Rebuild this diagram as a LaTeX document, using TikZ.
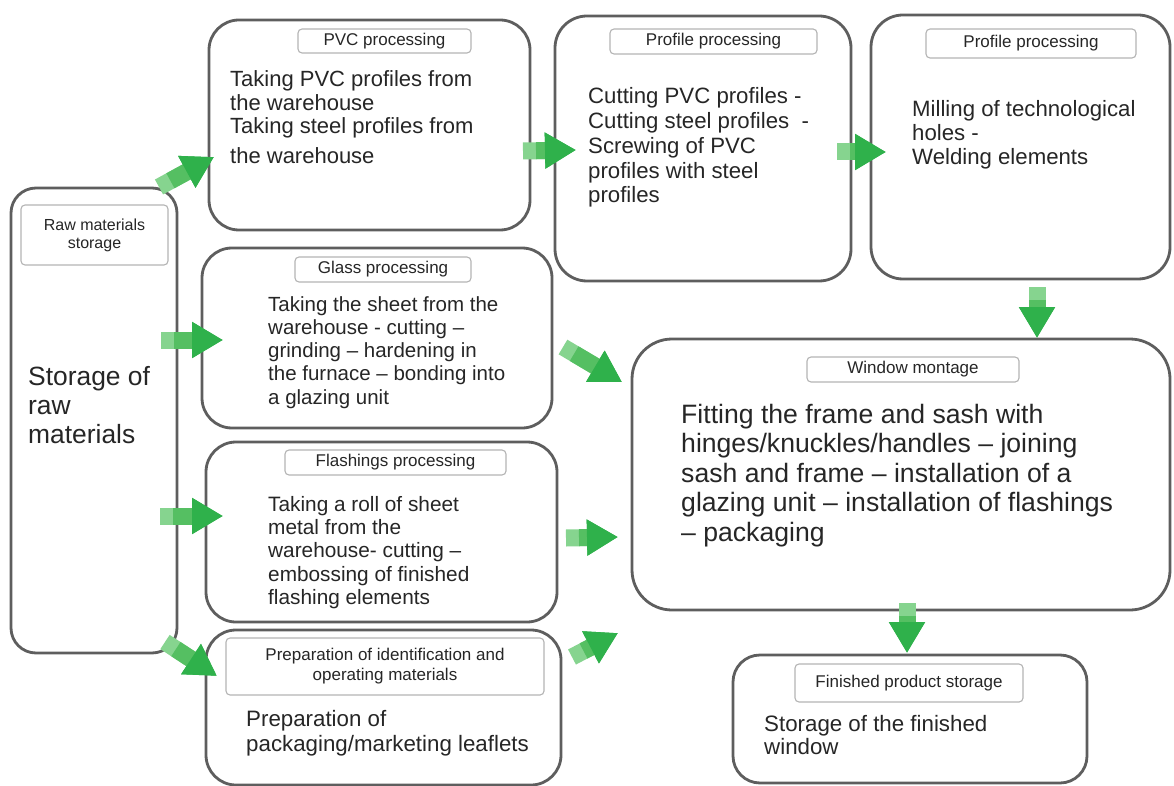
\documentclass[tikz,border=0pt]{standalone}
\usepackage{fontspec}
\setmainfont{Liberation Sans}
\usetikzlibrary{arrows.meta}
\definecolor{boxline}{HTML}{5E5E5E}
\definecolor{tline}{HTML}{B4B4B4}
\definecolor{txt}{HTML}{262626}
\definecolor{glight}{HTML}{86D48F}
\definecolor{gmid}{HTML}{55BF62}
\definecolor{gdark}{HTML}{2FB14B}
\begin{document}
\begin{tikzpicture}[x=1pt,y=-1pt,
  mainbox/.style={draw=boxline, line width=2.8pt, rounded corners=30pt, fill=white, inner sep=0pt},
  titlebox/.style={draw=tline, line width=1.1pt, rounded corners=4pt, fill=white, inner sep=0pt, align=center, text=txt, font=\fontsize{17pt}{19pt}\selectfont},
  bodytext/.style={anchor=north west, inner sep=0pt, align=left, text=txt},
  garrow/.style={line width=17pt, draw=glight, -{Triangle[width=34pt,length=31pt,color=gdark]},
    postaction={draw=gmid, line width=17pt, shorten <=13pt}}]
\useasboundingbox (0,0) rectangle (1174,786);
\fill[white] (0,0) rectangle (1174,786);

% main boxes
\node[mainbox, rounded corners=25pt, minimum width=166pt, minimum height=465pt] (raw) at (94,420.5) {};
\node[mainbox, minimum width=321pt, minimum height=210pt] (pvc) at (369.5,125) {};
\node[mainbox, rounded corners=32pt, minimum width=296pt, minimum height=265pt] (prof1) at (703,148.5) {};
\node[mainbox, rounded corners=32pt, minimum width=299pt, minimum height=264pt] (prof2) at (1020.5,147) {};
\node[mainbox, minimum width=350pt, minimum height=180pt] (glass) at (377,338) {};
\node[mainbox, minimum width=351pt, minimum height=180pt] (flash) at (381.5,532) {};
\node[mainbox, minimum width=355pt, minimum height=155pt] (prep) at (383.5,707.5) {};
\node[mainbox, rounded corners=40pt, minimum width=538pt, minimum height=271pt] (window) at (901,474.5) {};
\node[mainbox, rounded corners=27pt, minimum width=354pt, minimum height=128pt] (finished) at (910,719) {};

% title boxes
\node[titlebox, font=\fontsize{16pt}{18pt}\selectfont, minimum width=147pt, minimum height=60pt] (rawtitle) at (94.5,235) {Raw materials\\storage};
\node[titlebox, minimum width=173pt, minimum height=24pt] (pvctitle) at (384.5,41) {PVC processing};
\node[titlebox, minimum width=207pt, minimum height=25pt] (prof1title) at (713.5,41.5) {Profile processing};
\node[titlebox, minimum width=210pt, minimum height=29pt] (prof2title) at (1031,43.5) {Profile processing};
\node[titlebox, minimum width=176pt, minimum height=25pt] (glasstitle) at (383,269.5) {Glass processing};
\node[titlebox, minimum width=221pt, minimum height=25pt] (flashtitle) at (395.5,462.5) {Flashings processing};
\node[titlebox, font=\fontsize{17pt}{20pt}\selectfont, minimum width=318pt, minimum height=57pt] (preptitle) at (385,666.5) {Preparation of identification and\\operating materials};
\node[titlebox, minimum width=212pt, minimum height=25pt] (windowtitle) at (913,369.5) {Window montage};
\node[titlebox, minimum width=228pt, minimum height=38pt] (finishedtitle) at (909,683) {Finished product storage};

% body texts
\node[bodytext, font=\fontsize{26.4pt}{29pt}\selectfont] (rawtext) at (28,365.7) {Storage of\\raw\\materials};
\node[bodytext, font=\fontsize{22pt}{23.6pt}\selectfont] (pvctext) at (230,70.5) {Taking PVC profiles from\\the warehouse\\Taking steel profiles from\\[6pt]the warehouse};
\node[bodytext, font=\fontsize{22.2pt}{24.8pt}\selectfont] (prof1text) at (588,87.4) {Cutting PVC profiles -\\Cutting steel profiles\ \ -\\Screwing of PVC\\profiles with steel\\profiles};
\node[bodytext, font=\fontsize{22.2pt}{24pt}\selectfont] (prof2text) at (912,100.4) {Milling of technological\\holes -\\Welding elements};
\node[bodytext, font=\fontsize{20.5pt}{23.3pt}\selectfont] (glasstext) at (268,296) {Taking the sheet from the\\warehouse - cutting –\\grinding – hardening in\\the furnace – bonding into\\a glazing unit};
\node[bodytext, font=\fontsize{20.8pt}{23.3pt}\selectfont] (flashtext) at (268,496) {Taking a roll of sheet\\metal from the\\warehouse- cutting –\\embossing of finished\\flashing elements};
\node[bodytext, font=\fontsize{22.3pt}{25pt}\selectfont] (preptext) at (246,710.5) {Preparation of\\packaging/marketing leaflets};
\node[bodytext, font=\fontsize{26.6pt}{29.5pt}\selectfont] (windowtext) at (681,403.6) {Fitting the frame and sash with\\hinges/knuckles/handles – joining\\sash and frame – installation of a\\glazing unit – installation of flashings\\– packaging};
\node[bodytext, font=\fontsize{22.3pt}{23pt}\selectfont] (finishedtext) at (764,715.4) {Storage of the finished\\window};

% arrow end points
\coordinate (a1s) at (159,187);  \coordinate (a1e) at (214,157);
\coordinate (a2s) at (161,340);  \coordinate (a2e) at (223,340);
\coordinate (a3s) at (160,516);  \coordinate (a3e) at (223,516);
\coordinate (a4s) at (165,642);  \coordinate (a4e) at (217,676);
\coordinate (a5s) at (523,151);  \coordinate (a5e) at (576,150);
\coordinate (a6s) at (837,152);  \coordinate (a6e) at (886,152);
\coordinate (a7s) at (1037,287); \coordinate (a7e) at (1037,338);
\coordinate (a8s) at (563,347);  \coordinate (a8e) at (622,382);
\coordinate (a9s) at (566,538);  \coordinate (a9e) at (618,537);
\coordinate (a10s) at (572,657); \coordinate (a10e) at (618,633);
\coordinate (a11s) at (907,603); \coordinate (a11e) at (907,653);

\draw[garrow] (a1s) -- (a1e);
\draw[garrow] (a2s) -- (a2e);
\draw[garrow] (a3s) -- (a3e);
\draw[garrow] (a4s) -- (a4e);
\draw[garrow] (a5s) -- (a5e);
\draw[garrow] (a6s) -- (a6e);
\draw[garrow] (a7s) -- (a7e);
\draw[garrow] (a8s) -- (a8e);
\draw[garrow] (a9s) -- (a9e);
\draw[garrow] (a10s) -- (a10e);
\draw[garrow] (a11s) -- (a11e);
\end{tikzpicture}
\end{document}
